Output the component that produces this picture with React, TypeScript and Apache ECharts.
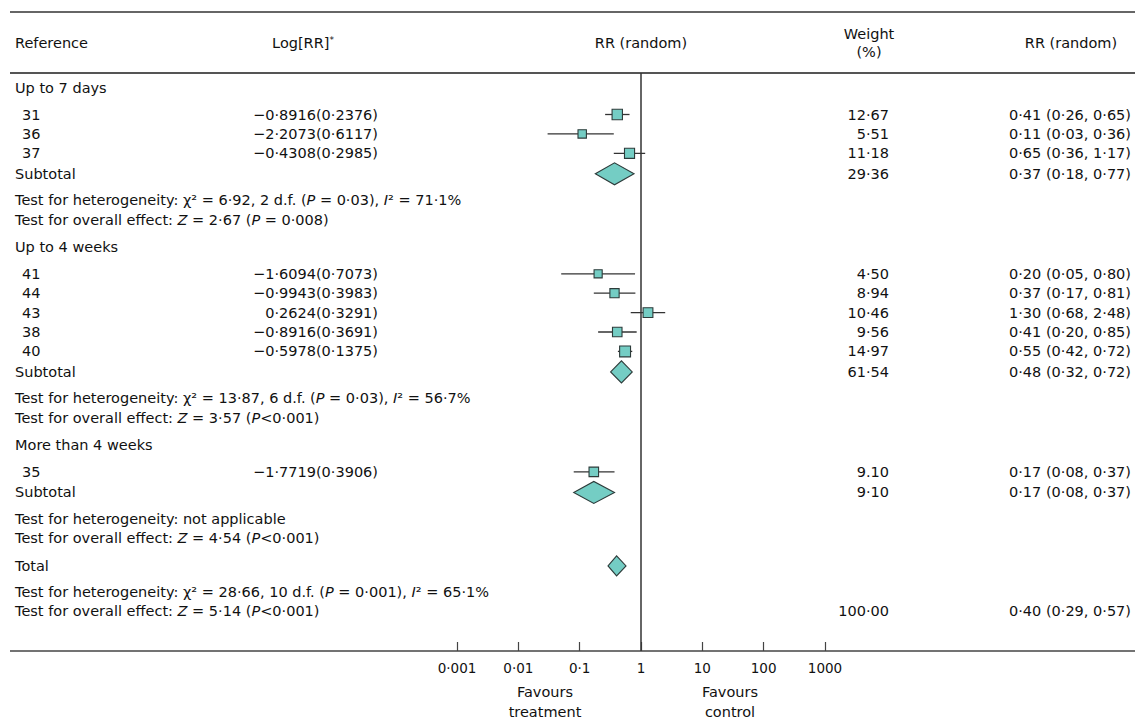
import React, { useEffect, useRef } from "react";
import * as echarts from "echarts";

// ---------- data ----------
const groupLabels = ["Up to 7 days", "Up to 4 weeks", "More than 4 weeks"];
const studyIds = ["31", "36", "37", "41", "44", "43", "38", "40", "35"];
const studyGroup = [0, 0, 0, 1, 1, 1, 1, 1, 2];
const logRR = [-0.8916, -2.2073, -0.4308, -1.6094, -0.9943, 0.2624, -0.8916, -0.5978, -1.7719];
const logSE = [0.2376, 0.6117, 0.2985, 0.7073, 0.3983, 0.3291, 0.3691, 0.1375, 0.3906];
const weightLabels = ["12·67", "5·51", "11·18", "4·50", "8·94", "10·46", "9·56", "14·97", "9.10"];
const studyRR = [0.41, 0.11, 0.65, 0.2, 0.37, 1.3, 0.41, 0.55, 0.17];
const studyLo = [0.26, 0.03, 0.36, 0.05, 0.17, 0.68, 0.2, 0.42, 0.08];
const studyHi = [0.65, 0.36, 1.17, 0.8, 0.81, 2.48, 0.85, 0.72, 0.37];

const subRR = [0.37, 0.48, 0.17];
const subLo = [0.18, 0.32, 0.08];
const subHi = [0.77, 0.72, 0.37];
const subWeight = ["29·36", "61·54", "9·10"];
const hetChi = ["6·92", "13·87", ""];
const hetDf = ["2", "6", ""];
const hetP = ["0·03", "0·03", ""];
const hetI2 = ["71·1%", "56·7%", ""];
const ovrZ = ["2·67", "3·57", "4·54"];
const ovrP = [" = 0·008", "<0·001", "<0·001"];

const totalRR = 0.4;
const totalLo = 0.29;
const totalHi = 0.57;
const totalWeight = "100·00";
const totalHet = { chi: "28·66", df: "10", p: "0·001", i2: "65·1%" };
const totalOvr = { z: "5·14", p: "<0·001" };

const tickLabels = ["0·001", "0·01", "0·1", "1", "10", "100", "1000"];

// ---------- helpers ----------
const FONT = "DejaVu Sans";
const FS = 14.5;
const INK = "#111";
const FILL = "#74cdc4";
const EDGE = "#2d3b3a";

const dot = (v: number, d: number) => v.toFixed(d).replace(".", "·");
const fmtLog = (v: number, se: number) =>
  (v < 0 ? "−" : "") + dot(Math.abs(v), 4) + "(" + dot(se, 4) + ")";
const fmtCI = (r: number, l: number, h: number) => `${dot(r, 2)} (${dot(l, 2)}, ${dot(h, 2)})`;

const rich = {
  i: { fontStyle: "italic", fontSize: FS, fontFamily: FONT, fill: INK },
  s: { fontSize: 9, fontFamily: FONT, fill: INK, verticalAlign: "top" },
};

function txt(x: number, y: number, text: string, align = "left") {
  return {
    type: "text",
    x,
    y,
    silent: true,
    style: {
      text,
      fill: INK,
      fontSize: FS,
      fontFamily: FONT,
      align,
      verticalAlign: "middle",
      rich,
    },
  };
}

const hetText = (chi: string, df: string, p: string, i2: string) =>
  chi
    ? `Test for heterogeneity: χ² = ${chi}, ${df} d.f. ({i|P} = ${p}), {i|I}² = ${i2}`
    : "Test for heterogeneity: not applicable";
const ovrText = (z: string, p: string) => `Test for overall effect: {i|Z} = ${z} ({i|P}${p})`;

// ---------- layout (row spacing) ----------
const LINE_Y = 73;
const AXIS_Y = 651;
const GAP = {
  firstGroup: 15,
  group: 27.5,
  firstStudy: 26.5,
  study: 19.4,
  sub: 20.5,
  het: 26.5,
  ovr: 19.5,
  totalHet: 26,
};

export default function App() {
  const ref = useRef<HTMLDivElement>(null);

  useEffect(() => {
    if (!ref.current) return;
    const chart = echarts.init(ref.current, null, { renderer: "svg" });

    const X_COL = { label: 15, id: 22, log: 378, weight: 889, rr: 1131 };
    const graphics: any[] = [];
    const studyPts: any[] = [];
    const diamondPts: any[] = [];

    let y = LINE_Y;
    groupLabels.forEach((g, gi) => {
      y += gi === 0 ? GAP.firstGroup : GAP.group;
      graphics.push(txt(X_COL.label, y, g));
      let first = true;
      studyIds.forEach((id, si) => {
        if (studyGroup[si] !== gi) return;
        y += first ? GAP.firstStudy : GAP.study;
        first = false;
        graphics.push(txt(X_COL.id, y, id));
        graphics.push(txt(X_COL.log, y, fmtLog(logRR[si], logSE[si]), "right"));
        graphics.push(txt(X_COL.weight, y, weightLabels[si], "right"));
        graphics.push(txt(X_COL.rr, y, fmtCI(studyRR[si], studyLo[si], studyHi[si]), "right"));
        studyPts.push([studyRR[si], y, studyLo[si], studyHi[si], parseFloat(weightLabels[si])]);
      });
      y += GAP.sub;
      graphics.push(txt(X_COL.label, y, "Subtotal"));
      graphics.push(txt(X_COL.weight, y, subWeight[gi], "right"));
      graphics.push(txt(X_COL.rr, y, fmtCI(subRR[gi], subLo[gi], subHi[gi]), "right"));
      diamondPts.push([subRR[gi], y, subLo[gi], subHi[gi], 11]);
      y += GAP.het;
      graphics.push(txt(X_COL.label, y, hetText(hetChi[gi], hetDf[gi], hetP[gi], hetI2[gi])));
      y += GAP.ovr;
      graphics.push(txt(X_COL.label, y, ovrText(ovrZ[gi], ovrP[gi])));
    });
    y += GAP.group;
    graphics.push(txt(X_COL.label, y, "Total"));
    diamondPts.push([totalRR, y, totalLo, totalHi, 10]);
    y += GAP.totalHet;
    graphics.push(txt(X_COL.label, y, hetText(totalHet.chi, totalHet.df, totalHet.p, totalHet.i2)));
    y += GAP.ovr;
    graphics.push(txt(X_COL.label, y, ovrText(totalOvr.z, totalOvr.p)));
    graphics.push(txt(X_COL.weight, y, totalWeight, "right"));
    graphics.push(txt(X_COL.rr, y, fmtCI(totalRR, totalLo, totalHi), "right"));

    // header
    graphics.push(txt(15, 43, "Reference"));
    graphics.push(txt(303, 43, "Log[RR]{s|*}", "center"));
    graphics.push(txt(641, 43, "RR (random)", "center"));
    graphics.push(txt(869, 34, "Weight", "center"));
    graphics.push(txt(869, 52, "(%)", "center"));
    graphics.push(txt(1071, 43, "RR (random)", "center"));
    // footer
    graphics.push(txt(545, 692, "Favours", "center"));
    graphics.push(txt(545, 712, "treatment", "center"));
    graphics.push(txt(730, 692, "Favours", "center"));
    graphics.push(txt(730, 712, "control", "center"));
    // rules
    const rule = (yy: number, w: number, c: string) => ({
      type: "line",
      silent: true,
      shape: { x1: 10, y1: yy, x2: 1135, y2: yy },
      style: { stroke: c, lineWidth: w },
    });
    graphics.push(rule(12, 1.6, "#333"));
    graphics.push(rule(LINE_Y, 2, "#555"));
    graphics.push(rule(AXIS_Y, 1.5, "#444"));

    chart.setOption({
      animation: false,
      backgroundColor: "#fff",
      grid: { left: 457, right: 310, top: LINE_Y, bottom: 720 - AXIS_Y, containLabel: false },
      xAxis: {
        type: "log",
        logBase: 10,
        min: 0.001,
        max: 1000,
        splitNumber: 6,
        axisLine: { show: false },
        axisTick: { show: true, inside: true, length: 9, lineStyle: { color: "#444", width: 1.2 } },
        minorTick: { show: false },
        splitLine: { show: false },
        axisLabel: {
          margin: 10,
          fontSize: 13.5,
          fontFamily: FONT,
          color: INK,
          formatter: (v: number) => tickLabels[Math.round(Math.log10(v)) + 3] ?? "",
        },
      },
      yAxis: { type: "value", min: LINE_Y, max: AXIS_Y, inverse: true, show: false },
      graphic: graphics,
      series: [
        {
          type: "custom",
          clip: false,
          silent: true,
          data: studyPts,
          encode: { x: 0, y: 1 },
          renderItem: (params: any, api: any) => {
            const yy = api.value(1);
            const c = api.coord([api.value(0), yy]);
            const l = api.coord([api.value(2), yy]);
            const h = api.coord([api.value(3), yy]);
            const s = 7 + api.value(4) * 0.28;
            return {
              type: "group",
              children: [
                {
                  type: "line",
                  shape: { x1: l[0], y1: c[1], x2: h[0], y2: c[1] },
                  style: { stroke: "#333", lineWidth: 1.3 },
                },
                {
                  type: "rect",
                  shape: { x: c[0] - s / 2, y: c[1] - s / 2, width: s, height: s },
                  style: { fill: FILL, stroke: EDGE, lineWidth: 1.1 },
                },
              ],
            };
          },
          markLine: {
            silent: true,
            symbol: "none",
            label: { show: false },
            lineStyle: { color: "#333", width: 1.5, type: "solid" },
            data: [{ xAxis: 1 }],
          },
        },
        {
          type: "custom",
          clip: false,
          silent: true,
          data: diamondPts,
          encode: { x: 0, y: 1 },
          renderItem: (params: any, api: any) => {
            const yy = api.value(1);
            const c = api.coord([api.value(0), yy]);
            const l = api.coord([api.value(2), yy]);
            const h = api.coord([api.value(3), yy]);
            const hh = api.value(4);
            return {
              type: "polygon",
              shape: {
                points: [
                  [l[0], c[1]],
                  [c[0], c[1] - hh],
                  [h[0], c[1]],
                  [c[0], c[1] + hh],
                ],
              },
              style: { fill: FILL, stroke: EDGE, lineWidth: 1.1 },
            };
          },
        },
      ],
    });

    return () => chart.dispose();
  }, []);

  return (
    <div
      ref={ref}
      style={{ position: "fixed", left: 0, top: 0, width: 1135, height: 720, background: "#fff" }}
    />
  );
}
